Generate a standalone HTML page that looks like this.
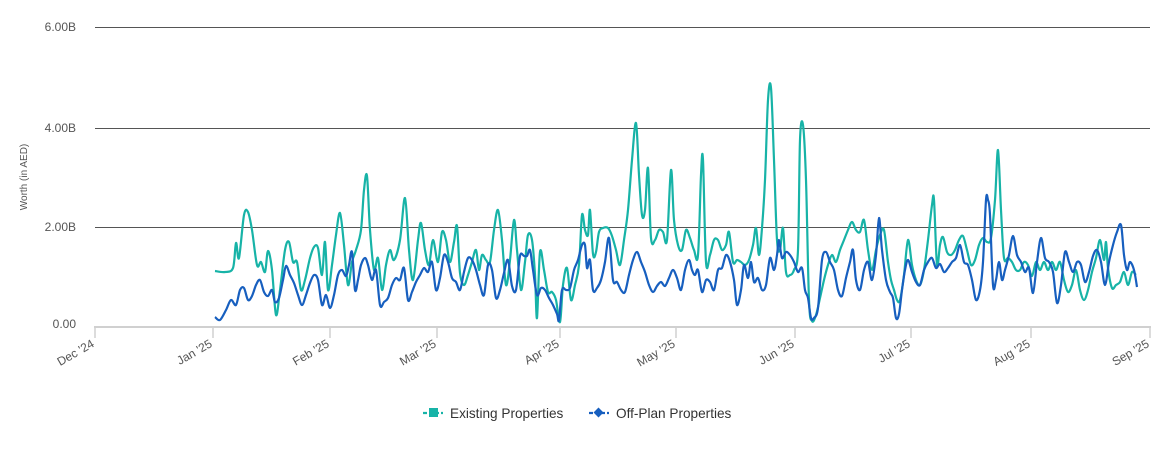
<!DOCTYPE html>
<html><head><meta charset="utf-8"><style>
body{margin:0;background:#fff;font-family:"Liberation Sans",sans-serif;}
svg text{font-family:"Liberation Sans",sans-serif;fill:#555;}
</style></head><body>
<svg id="c" width="1162" height="453" xmlns="http://www.w3.org/2000/svg">
<line x1="95" y1="27.5" x2="1150" y2="27.5" stroke="#555" stroke-width="1"/>
<line x1="95" y1="128.5" x2="1150" y2="128.5" stroke="#555" stroke-width="1"/>
<line x1="95" y1="227.5" x2="1150" y2="227.5" stroke="#555" stroke-width="1"/>
<line x1="94" y1="327" x2="1151" y2="327" stroke="#d0d0d0" stroke-width="2"/>
<g font-size="12" text-anchor="end">
<text x="76" y="31">6.00B</text><text x="76" y="132">4.00B</text><text x="76" y="231">2.00B</text><text x="76" y="328">0.00</text>
</g>
<text transform="translate(27,177) rotate(-90)" font-size="10" text-anchor="middle">Worth (in AED)</text>
<g id="ticks"></g>
<path id="teal" fill="none" stroke="#17b3a7" stroke-width="2.2"/>
<path id="blue" fill="none" stroke="#175fbf" stroke-width="2.2"/>
<g font-size="13.6" fill="#333">
<line x1="423" y1="413" x2="443" y2="413" stroke="#17b3a7" stroke-width="2.2" stroke-dasharray="4,2"/>
<rect x="429" y="408" width="9" height="9" fill="#17b3a7"/>
<text x="450" y="418" style="fill:#333">Existing Properties</text>
<line x1="589" y1="413" x2="609" y2="413" stroke="#175fbf" stroke-width="2.2" stroke-dasharray="4,2"/>
<rect x="595" y="409" width="7" height="7" fill="#175fbf" transform="rotate(45 598.5 412.5)"/>
<text x="616" y="418" style="fill:#333">Off-Plan Properties</text>
</g>
</svg>
<script>
var ns="http://www.w3.org/2000/svg";
var ticks=[[95,"Dec '24"],[213,"Jan '25"],[330,"Feb '25"],[437,"Mar '25"],[560,"Apr '25"],[676,"May '25"],[795,"Jun '25"],[911,"Jul '25"],[1031,"Aug '25"],[1150,"Sep '25"]];
var g=document.getElementById("ticks");
ticks.forEach(function(t){var l=document.createElementNS(ns,"line");l.setAttribute("x1",t[0]);l.setAttribute("x2",t[0]);l.setAttribute("y1",327);l.setAttribute("y2",338);l.setAttribute("stroke","#d0d0d0");l.setAttribute("stroke-width","1.5");g.appendChild(l);
var tx=document.createElementNS(ns,"text");tx.setAttribute("transform","translate("+(t[0])+",346) rotate(-30)");tx.setAttribute("text-anchor","end");tx.setAttribute("font-size","12");tx.textContent=t[1];g.appendChild(tx);});
function parse(s){return s.split(";").map(function(p){var a=p.split(",");return [+a[0],+a[1]];});}
function path(pts){var d="M"+pts[0][0]+","+pts[0][1];for(var i=0;i<pts.length-1;i++){var p0=pts[i-1]||pts[i],p1=pts[i],p2=pts[i+1],p3=pts[i+2]||p2;var c1x=p1[0]+(p2[0]-p0[0])/6,c1y=p1[1]+(p2[1]-p0[1])/6,c2x=p2[0]-(p3[0]-p1[0])/6,c2y=p2[1]-(p3[1]-p1[1])/6;d+=" C"+c1x.toFixed(1)+","+c1y.toFixed(1)+" "+c2x.toFixed(1)+","+c2y.toFixed(1)+" "+p2[0]+","+p2[1];}return d;}
var teal="215,271;225,272;233,268;236,243;239,258;244,215;248,212;252,230;257,265;261,262;265,272;268,251;272,270;276,315;280,290;285,250;289,242;293,262;297,262;301,290;305,280;310,258;314,247;318,248;322,275;325,242;328,290;332,265;336,235;340,213;344,245;348,285;352,262;356,250;361,230;364,190;367,176;370,230;374,270;378,258;382,290;386,265;390,250;394,260;400,240;405,198;409,250;413,280;418,240;421,223;425,250;429,265;433,240;438,262;442,232;446,240;450,262;454,242;457,226;460,273;464,285;468,275;472,262;476,250;479,270;482,255;486,260;490,262;494,230;498,210;502,240;506,285;510,260;514,220;517,250;521,290;525,262;528,235;532,240;535,275;537,318;540,252;544,270;548,292;552,292;556,300;560,322;563,285;567,268;571,300;575,285;579,265;582,215;585,230;588,235;590,210;593,254;596,252;599,232;603,228;608,228;612,236;616,250;620,265;624,240;628,210;632,160;636,123;639,175;642,215;645,210;648,168;651,238;655,240;659,230;663,232;667,240;671,170;674,220;678,245;682,250;686,230;690,238;694,250;698,255;701,175;703,160;706,262;710,255;714,240;718,240;722,250;726,245;729,232;733,262;737,260;741,262;745,265;749,260;753,245;756,228;759,255;762,228;765,180;768,100;771,88;774,160;777,240;780,250;783,228;786,272;790,275;794,270;798,250;800,140;803,125;806,180;809,300;812,321;816,315;820,298;824,280;828,265;832,255;836,262;840,250;844,240;848,230;852,222;856,230;860,232;864,220;868,250;872,270;876,250;880,235;884,230;888,262;891,280;894,290;897,300;900,300;904,275;908,240;912,265;916,280;920,285;924,270;928,240;932,205;934,200;937,265;940,245;943,237;947,252;951,255;955,250;959,240;963,236;967,250;971,265;975,260;979,245;983,238;987,242;991,238;995,200;998,150;1001,210;1004,258;1008,258;1012,262;1016,270;1020,270;1024,262;1028,265;1032,276;1036,262;1040,270;1044,262;1048,270;1052,262;1056,270;1060,262;1064,280;1068,292;1072,285;1076,270;1080,290;1084,300;1088,290;1092,272;1096,258;1100,240;1104,260;1106,242;1108,268;1112,288;1116,285;1120,282;1124,272;1128,285;1132,272;1136,275";
var blue="215,317;220,320;226,310;231,300;236,305;240,290;244,288;248,300;252,296;256,285;260,280;264,292;268,296;272,290;275,302;279,298;283,280;286,266;290,275;294,283;298,295;302,305;306,295;310,283;314,275;318,280;322,305;326,295;330,308;334,295;338,275;342,270;346,276;349,265;352,252;355,290;358,280;361,265;365,258;368,265;372,280;376,270;380,305;384,302;388,298;392,285;396,278;400,280;404,268;408,300;412,292;416,282;420,275;424,268;428,272;432,262;436,290;440,278;444,255;448,262;452,278;456,282;460,290;464,272;468,258;472,260;476,270;480,285;484,295;488,265;492,270;496,298;500,290;504,273;508,260;512,286;516,290;520,256;524,256;527,256;530,250;533,270;537,295;541,288;545,290;549,298;553,305;557,314;559,320;562,290;566,290;570,288;574,270;578,260;582,245;585,245;587,268;590,260;593,290;597,288;601,280;605,262;609,238;613,280;617,282;621,290;625,292;629,275;633,260;637,252;641,262;645,272;649,285;653,292;657,286;661,282;665,286;669,278;673,270;677,278;681,290;685,270;689,260;692,270;695,275;698,270;702,292;706,280;710,282;714,290;718,270;722,268;726,255;730,262;734,280;737,305;741,290;744,265;748,278;751,262;754,282;758,278;762,290;766,285;770,258;774,270;777,255;779,240;782,258;786,252;790,255;794,262;798,272;802,268;805,290;808,298;811,318;814,318;818,308;822,260;826,252;830,262;834,270;838,290;842,296;846,278;850,262;853,250;856,280;860,290;864,270;868,262;872,280;876,255;879,218;882,250;886,280;890,292;893,298;896,318;899,314;902,290;905,270;908,260;912,272;916,282;920,285;924,270;928,262;932,258;936,268;940,264;944,272;948,268;952,262;956,258;960,245;964,262;968,265;972,280;976,300;980,290;983,262;986,200;988,200;990,215;993,285;996,280;999,262;1002,280;1005,270;1009,255;1013,236;1017,255;1021,262;1025,272;1029,268;1033,293;1037,262;1041,238;1045,258;1049,262;1053,272;1057,303;1061,285;1065,252;1069,262;1073,272;1077,262;1081,265;1085,282;1089,272;1093,256;1097,250;1101,262;1105,285;1109,262;1113,245;1117,232;1121,225;1124,255;1127,270;1130,262;1134,270;1137,287";
document.getElementById("teal").setAttribute("d",path(parse(teal)));
document.getElementById("blue").setAttribute("d",path(parse(blue)));
</script>
</body></html>
